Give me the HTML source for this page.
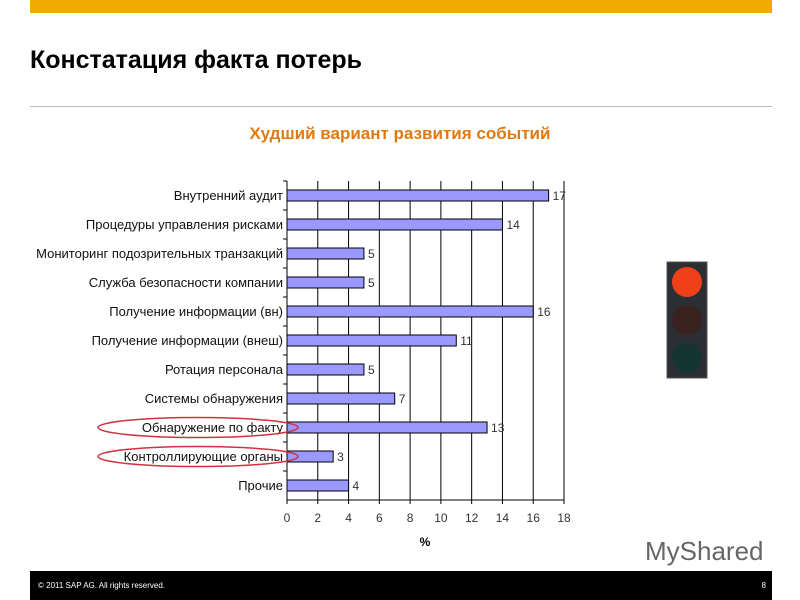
<!DOCTYPE html>
<html><head><meta charset="utf-8"><style>
body{margin:0;width:800px;height:600px;background:#fff;position:relative;overflow:hidden;font-family:"Liberation Sans",sans-serif}
</style></head><body>
<div style="position:absolute;left:30px;top:0;width:742px;height:13px;background:#f0ab00"></div>
<div style="position:absolute;left:30px;top:46px;font-size:25px;font-weight:bold;color:#000">Констатация факта потерь</div>
<div style="position:absolute;left:30px;top:106px;width:742px;height:1px;background:#bbb"></div>
<div style="position:absolute;left:0;width:800px;top:124px;text-align:center;font-size:17px;font-weight:bold;color:#e07a10">Худший вариант развития событий</div>
<svg id="chart" width="800" height="600" style="position:absolute;left:0;top:0"></svg>
<svg width="800" height="600" style="position:absolute;left:0;top:0">
<rect x="667" y="262" width="40" height="116" fill="#2b2f33" stroke="#555"/>
<circle cx="687" cy="282" r="15" fill="#f0401a"/>
<circle cx="687" cy="320" r="15" fill="#3a2220"/>
<circle cx="687" cy="358" r="15" fill="#153530"/>
</svg>
<div style="position:absolute;left:645px;top:536px;font-size:26px;color:#666">MyShared</div>
<div style="position:absolute;left:30px;top:571px;width:742px;height:29px;background:#000;color:#fff;font-size:8px">
<span style="position:absolute;left:8px;top:10px">© 2011 SAP AG. All rights reserved.</span>
<span style="position:absolute;right:6px;top:10px">8</span></div>
<script>
const categories=["Внутренний аудит","Процедуры управления рисками","Мониторинг подозрительных транзакций","Служба безопасности компании","Получение информации (вн)","Получение информации (внеш)","Ротация персонала","Системы обнаружения","Обнаружение по факту","Контроллирующие органы","Прочие"];
const values=[17,14,5,5,16,11,5,7,13,3,4];
const ticks=[0,2,4,6,8,10,12,14,16,18];
const svg=document.getElementById('chart');const NS='http://www.w3.org/2000/svg';
const x0=287,x1=564,plotTop=181,plotBot=500,band=(plotBot-plotTop)/categories.length;
const X=v=>x0+v*(x1-x0)/18;
function el(t,a,txt){const e=document.createElementNS(NS,t);for(const k in a)e.setAttribute(k,a[k]);if(txt!=null)e.textContent=txt;svg.appendChild(e);return e;}
ticks.forEach(t=>{const g=el('line',{x1:X(t),x2:X(t),y1:plotTop,y2:plotBot+4,stroke:'#000','stroke-width':1});


const l=el('text',{x:X(t),y:522,'text-anchor':'middle','font-size':12,fill:'#333'},t);

});
el('line',{x1:x0,x2:x0,y1:plotTop,y2:plotBot,stroke:'#000'});
el('line',{x1:x0,x2:x1,y1:plotBot,y2:plotBot,stroke:'#000'});
const xt=el('text',{x:425,y:546,'text-anchor':'middle','font-size':12,'font-weight':'bold'},'%');


categories.forEach((c,i)=>{const cy=plotTop+band*(i+0.5);
el('line',{x1:x0-4,x2:x0,y1:plotTop+band*i,y2:plotTop+band*i,stroke:'#000'});
const b=el('rect',{x:x0,y:cy-5.5,width:X(values[i])-x0,height:11,fill:'#9999ff',stroke:'#000','stroke-width':1});


const v=el('text',{x:X(values[i])+4,y:cy+4.5,'font-size':12,fill:'#333'},values[i]);


const l=el('text',{x:x0-4,y:cy+4.5,'text-anchor':'end','font-size':13,fill:'#111'},c);

});
[8,9].forEach(i=>{const cy=plotTop+band*(i+0.5);const e=el('ellipse',{cx:198,cy:cy,rx:100,ry:10,fill:'none',stroke:'#d03040','stroke-width':1.5});

});
</script>
</body></html>
